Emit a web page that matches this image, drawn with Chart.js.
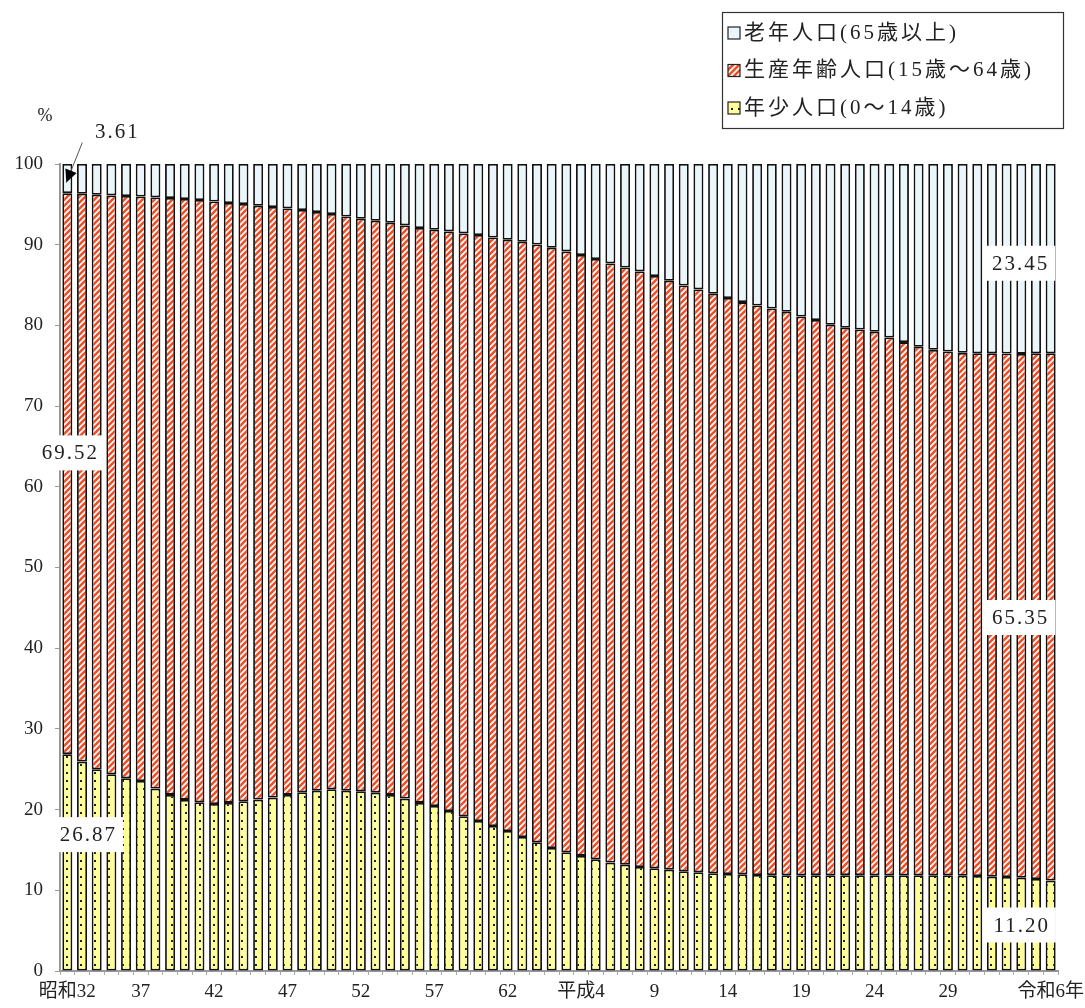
<!DOCTYPE html>
<html lang="ja">
<head>
<meta charset="utf-8">
<script src="https://cdn.jsdelivr.net/npm/chart.js@4.4.1/dist/chart.umd.min.js"></script>
<style>
  html, body { margin: 0; padding: 0; background: #fff; }
  #wrap { width: 1085px; height: 1008px; }
</style>
</head>
<body>
<div id="wrap"><canvas id="popChart" width="1085" height="1008"></canvas></div>
<script>
// 目盛ラベル（5年ごと）
const xTickLabels = [
  '昭和32','','','','','37','','','','','42','','','','','47','','','','',
  '52','','','','','57','','','','','62','','','','','平成4','','','','',
  '9','','','','','14','','','','','19','','','','','24','','','','',
  '29','','','','','','','令和6年'
];

// 年少人口（0〜14歳）%
const youngPct = [
  26.87, 25.95, 25.00, 24.38, 23.89, 23.55, 22.60, 21.82, 21.20, 20.91,
  20.70, 20.83, 21.04, 21.24, 21.49, 21.82, 22.15, 22.35, 22.52, 22.35,
  22.27, 22.10, 21.82, 21.36, 20.83, 20.45, 19.83, 19.17, 18.59, 17.97,
  17.35, 16.61, 15.95, 15.25, 14.71, 14.26, 13.85, 13.43, 13.18, 12.89,
  12.73, 12.56, 12.36, 12.23, 12.11, 12.02, 11.98, 11.90, 11.88, 11.87,
  11.87, 11.88, 11.87, 11.88, 11.88, 11.87, 11.87, 11.86, 11.86, 11.86,
  11.86, 11.81, 11.78, 11.69, 11.65, 11.57, 11.40, 11.20
];

// 生産年齢人口（15〜64歳）%
const workingPct = [
  69.52, 70.37, 71.19, 71.73, 72.14, 72.43, 73.26, 73.97, 74.46, 74.63,
  74.66, 74.34, 74.00, 73.59, 73.18, 72.68, 72.15, 71.70, 71.28, 71.15,
  70.95, 70.87, 70.90, 71.03, 71.24, 71.41, 71.82, 72.23, 72.61, 72.93,
  73.27, 73.76, 74.08, 74.37, 74.46, 74.46, 74.37, 74.25, 74.00, 73.80,
  73.39, 72.97, 72.59, 72.23, 71.81, 71.37, 70.91, 70.57, 70.22, 69.82,
  69.24, 68.78, 68.21, 67.83, 67.62, 67.34, 66.63, 66.07, 65.49, 65.11,
  64.90, 64.79, 64.77, 64.86, 64.86, 64.90, 65.15, 65.35
];

// 老年人口（65歳以上）%
const oldPct = [
  3.61, 3.68, 3.81, 3.89, 3.97, 4.02, 4.14, 4.21, 4.34, 4.46,
  4.64, 4.83, 4.96, 5.17, 5.33, 5.50, 5.70, 5.95, 6.20, 6.50,
  6.78, 7.03, 7.28, 7.61, 7.93, 8.14, 8.35, 8.60, 8.80, 9.10,
  9.38, 9.63, 9.97, 10.38, 10.83, 11.28, 11.78, 12.32, 12.82, 13.31,
  13.88, 14.47, 15.05, 15.54, 16.08, 16.61, 17.11, 17.53, 17.90, 18.31,
  18.89, 19.34, 19.92, 20.29, 20.50, 20.79, 21.50, 22.07, 22.65, 23.03,
  23.24, 23.40, 23.45, 23.45, 23.49, 23.53, 23.45, 23.45
];

const yTicks = [0, 10, 20, 30, 40, 50, 60, 70, 80, 90, 100];

const NUM_FONT = '"Liberation Serif", "Noto Sans CJK JP", serif';
const JP_FONT = '"Liberation Serif", "Noto Sans CJK JP", sans-serif';

// 斜線パターン（生産年齢）
function stripePattern(ctx) {
  const c = document.createElement('canvas');
  c.width = 6; c.height = 6;
  const g = c.getContext('2d');
  g.fillStyle = '#ffffff';
  g.fillRect(0, 0, 6, 6);
  g.strokeStyle = '#f04f27';
  g.lineWidth = 2.6;
  g.beginPath();
  g.moveTo(-3, 3); g.lineTo(3, -3);
  g.moveTo(0, 6); g.lineTo(6, 0);
  g.moveTo(3, 9); g.lineTo(9, 3);
  g.stroke();
  return ctx.createPattern(c, 'repeat');
}

// 点々パターン（年少）
function dotPattern(ctx) {
  const c = document.createElement('canvas');
  c.width = 7; c.height = 8;
  const g = c.getContext('2d');
  g.fillStyle = '#ffff99';
  g.fillRect(0, 0, 7, 8);
  g.fillStyle = '#222';
  g.fillRect(3, 4, 2, 2);
  return ctx.createPattern(c, 'repeat');
}

const canvas = document.getElementById('popChart');
const ctx = canvas.getContext('2d');
const stripe = stripePattern(ctx);
const dots = dotPattern(ctx);
const OLD_FILL = '#eaf6f9';

// 凡例・数値ラベル描画
const annotatePlugin = {
  id: 'annotate',
  afterDatasetsDraw(chart) {
    const c = chart.ctx;
    const y = chart.scales.y;
    const first = chart.getDatasetMeta(0).data[0];
    const last = chart.getDatasetMeta(0).data[youngPct.length - 1];
    c.save();

    // %
    c.fillStyle = '#222';
    c.font = '18px ' + NUM_FONT;
    c.textAlign = 'center';
    c.textBaseline = 'middle';
    c.fillText('%', 45, y.getPixelForValue(100) - 48);

    // 数値ラベル（白地）
    function boxLabel(text, cx, cy) {
      c.font = '21px ' + NUM_FONT;
      c.letterSpacing = '2px';
      const w = c.measureText(text).width + 14;
      const h = 35;
      c.fillStyle = '#fff';
      c.fillRect(cx - w / 2, cy - h / 2, w, h);
      c.fillStyle = '#222';
      c.textAlign = 'center';
      c.textBaseline = 'middle';
      c.fillText(text, cx + 1, cy + 1);
      c.letterSpacing = '0px';
    }
    boxLabel(workingPct[0].toFixed(2), first.x + 2, y.getPixelForValue(64.2));
    boxLabel(youngPct[0].toFixed(2), first.x + 20, y.getPixelForValue(16.9));
    const n = youngPct.length - 1;
    boxLabel(oldPct[n].toFixed(2), last.x - 31, y.getPixelForValue(87.7));
    boxLabel(workingPct[n].toFixed(2), last.x - 31, y.getPixelForValue(43.8));
    boxLabel(youngPct[n].toFixed(2), last.x - 30, y.getPixelForValue(5.7));

    // 3.61 と矢印
    const tipX = first.x - 1;
    const tipY = y.getPixelForValue(97.7);
    c.fillStyle = '#222';
    c.font = '21px ' + NUM_FONT;
    c.letterSpacing = '2px';
    c.textAlign = 'center';
    c.textBaseline = 'middle';
    c.fillText(oldPct[0].toFixed(2), tipX + 51, tipY - 50);
    c.letterSpacing = '0px';
    const sx = tipX + 16, sy = tipY - 40;
    const ang = Math.atan2(tipY - sy, tipX - sx);
    c.strokeStyle = '#555';
    c.lineWidth = 1;
    c.beginPath();
    c.moveTo(sx, sy);
    c.lineTo(tipX, tipY);
    c.stroke();
    c.fillStyle = '#000';
    c.beginPath();
    c.moveTo(tipX, tipY);
    c.lineTo(tipX - 14 * Math.cos(ang - 0.45), tipY - 14 * Math.sin(ang - 0.45));
    c.lineTo(tipX - 14 * Math.cos(ang + 0.45), tipY - 14 * Math.sin(ang + 0.45));
    c.closePath();
    c.fill();

    // 凡例
    const lx = chart.width - 363, ly = 12, lw = 341, lh = 116;
    c.fillStyle = '#fff';
    c.fillRect(lx, ly, lw, lh);
    c.strokeStyle = '#333';
    c.lineWidth = 1.2;
    c.strokeRect(lx + 0.5, ly + 0.5, lw, lh);
    const items = [2, 1, 0].map(i => chart.data.datasets[i]);
    items.forEach((ds, k) => {
      const rowY = ly + 21 + k * 37.5;
      c.fillStyle = ds.backgroundColor;
      c.fillRect(lx + 6, rowY - 6, 12, 12);
      c.strokeStyle = '#222';
      c.lineWidth = 1.2;
      c.strokeRect(lx + 6, rowY - 6, 12, 12);
      c.fillStyle = '#222';
      c.font = '21px ' + JP_FONT;
      c.letterSpacing = '3px';
      c.textAlign = 'left';
      c.textBaseline = 'middle';
      c.fillText(ds.label, lx + 22, rowY);
      c.letterSpacing = '0px';
    });
    c.restore();
  }
};

const barBase = {
  borderColor: '#111',
  borderWidth: 1.8,
  borderSkipped: false,
  barPercentage: 0.68,
  categoryPercentage: 1.0
};

new Chart(canvas, {
  type: 'bar',
  data: {
    labels: xTickLabels,
    datasets: [
      Object.assign({ label: '年少人口(0〜14歳)', data: youngPct, backgroundColor: dots }, barBase),
      Object.assign({ label: '生産年齢人口(15歳〜64歳)', data: workingPct, backgroundColor: stripe }, barBase),
      Object.assign({ label: '老年人口(65歳以上)', data: oldPct, backgroundColor: OLD_FILL }, barBase)
    ]
  },
  options: {
    responsive: false,
    animation: false,
    devicePixelRatio: 1,
    layout: { padding: { top: 164, right: 27, left: 0, bottom: 0 } },
    plugins: {
      legend: { display: false },
      tooltip: { enabled: false }
    },
    scales: {
      x: {
        stacked: true,
        grid: { display: true, drawOnChartArea: false, offset: true, tickLength: 4, color: '#aaa' },
        border: { color: '#999', width: 2 },
        ticks: {
          autoSkip: false,
          maxRotation: 0,
          minRotation: 0,
          padding: 6,
          color: '#222',
          font: { family: JP_FONT, size: 19 }
        },
        afterFit(axis) {
          axis.height = 37;
          axis.paddingLeft = 0;
          axis.paddingRight = 0;
        }
      },
      y: {
        stacked: true,
        min: 0,
        max: 100,
        afterBuildTicks(axis) {
          axis.ticks = yTicks.map(v => ({ value: v }));
        },
        grid: { display: true, drawOnChartArea: false, tickLength: 5, color: '#999' },
        border: { color: '#999', width: 2 },
        ticks: {
          padding: 12,
          color: '#222',
          font: { family: NUM_FONT, size: 19 }
        },
        afterFit(axis) {
          axis.width = 60;
        }
      }
    }
  },
  plugins: [annotatePlugin]
});
</script>
</body>
</html>
